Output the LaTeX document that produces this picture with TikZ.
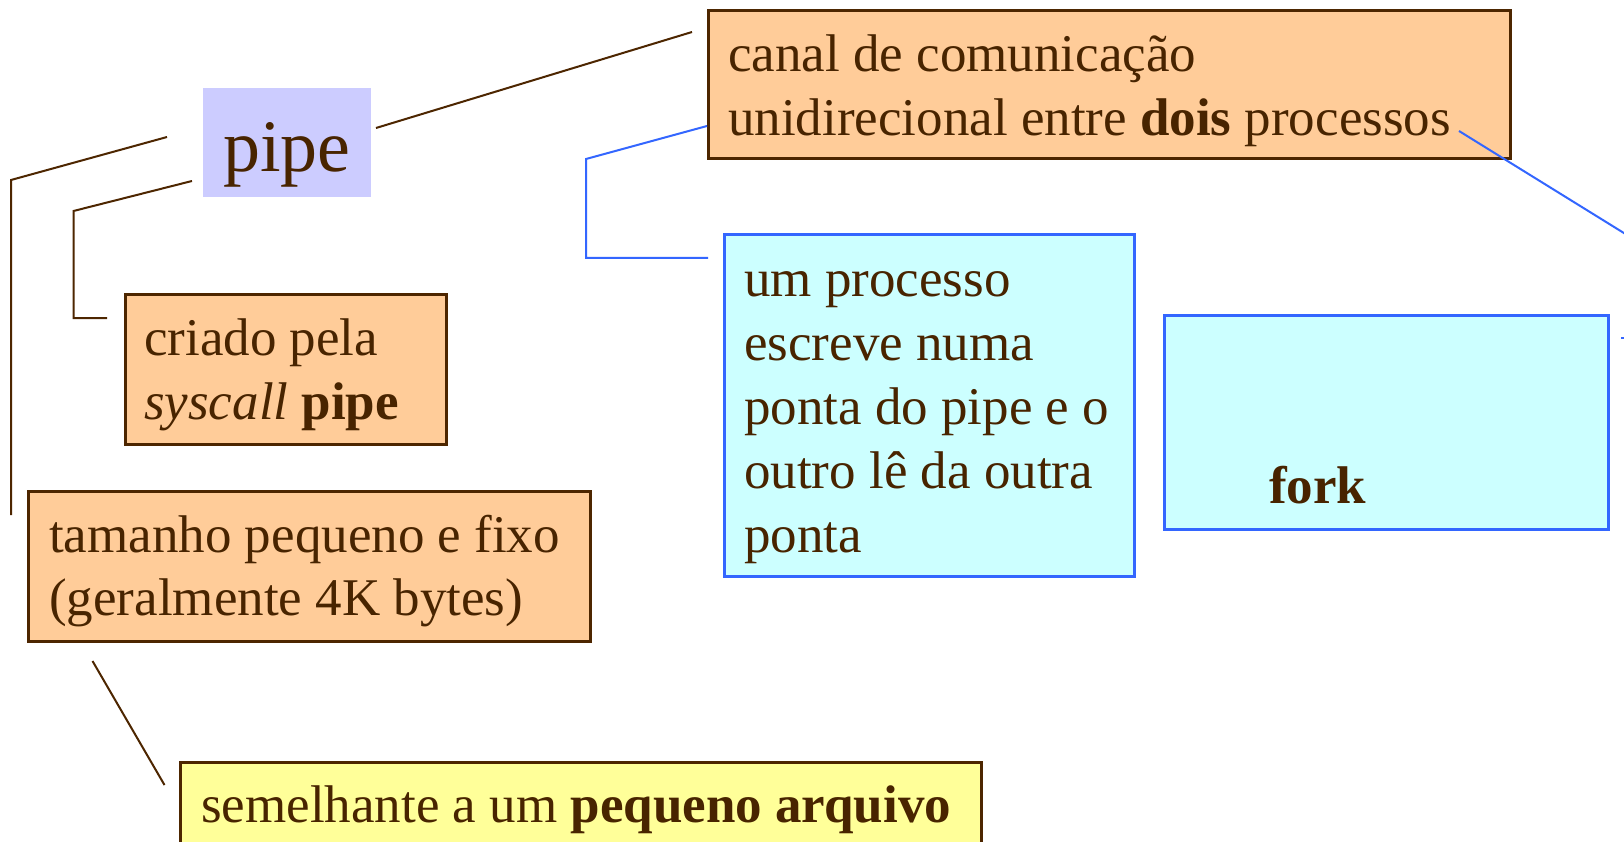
\documentclass[tikz,border=0pt]{standalone}
\usepackage{fontspec}
\setmainfont{Liberation Serif}
\definecolor{tbrown}{RGB}{72,36,0}
\definecolor{lbrown}{RGB}{77,38,0}
\definecolor{ofill}{RGB}{255,204,153}
\definecolor{cfill}{RGB}{204,255,255}
\definecolor{yfill}{RGB}{255,255,153}
\definecolor{pfill}{RGB}{204,204,255}
\definecolor{bline}{RGB}{51,102,255}
\tikzset{
  obox/.style={draw=lbrown, line width=2.6pt, fill=ofill, inner sep=0pt, anchor=north west},
  cbox/.style={draw=bline, line width=2.6pt, fill=cfill, inner sep=0pt, anchor=north west},
  ybox/.style={draw=lbrown, line width=2.6pt, fill=yfill, inner sep=0pt, anchor=north west},
  pbox/.style={fill=pfill, inner sep=0pt, anchor=north west},
  txt/.style={inner sep=0pt, anchor=base west, text=tbrown, font=\fontsize{53}{64}\selectfont},
  bigtxt/.style={inner sep=0pt, anchor=base west, text=tbrown, font=\fontsize{74}{88}\selectfont},
  brline/.style={draw=lbrown, line width=2pt},
  blline/.style={draw=bline, line width=2pt},
}
\begin{document}
\begin{tikzpicture}[x=1pt,y=-1pt]
\clip (0,0) rectangle (1624,842);
\fill[white] (0,0) rectangle (1624,842);

% boxes
\node[pbox, minimum width=168pt, minimum height=109pt] (pipebox) at (203,88) {};
\node[obox, minimum width=802pt, minimum height=148pt] (canal) at (707,9) {};
\node[obox, minimum width=321pt, minimum height=150pt] (criado) at (124,293) {};
\node[obox, minimum width=562pt, minimum height=150pt] (tamanho) at (27,490) {};
\node[ybox, minimum width=801pt, minimum height=110pt] (semelhante) at (179,761) {};
\node[cbox, minimum width=410pt, minimum height=342pt] (processo) at (723,233) {};
\node[cbox, minimum width=444pt, minimum height=214pt] (fork) at (1163,314) {};

% texts
\node[bigtxt] (tpipe) at (223,172) {pipe};
\node[txt] (tcanal1) at (728,72) {canal de comunicação};
\node[txt] (tcanal2) at (728,136) {unidirecional entre \textbf{dois} processos};
\node[txt] (tcriado1) at (144,355) {criado pela};
\node[txt] (tcriado2) at (144,419) {\textit{syscall} \textbf{pipe}};
\node[txt] (ttam1) at (49,552) {tamanho pequeno e fixo};
\node[txt] (ttam2) at (49,615) {(geralmente 4K bytes)};
\node[txt] (tsem) at (201,822) {semelhante a um \textbf{pequeno arquivo}};
\node[txt] (tproc1) at (744,296) {um processo};
\node[txt] (tproc2) at (744,360) {escreve numa};
\node[txt] (tproc3) at (744,424) {ponta do pipe e o};
\node[txt] (tproc4) at (744,488) {outro lê da outra};
\node[txt] (tproc5) at (744,552) {ponta};
\node[txt] (tfork) at (1269,503) {\textbf{fork}};

% connector end points
\coordinate (a1) at (376,128);
\coordinate (a2) at (692,32);
\coordinate (b1) at (167,137);
\coordinate (b2) at (11,180);
\coordinate (b3) at (11,515);
\coordinate (c1) at (192,181);
\coordinate (c2) at (73.5,211);
\coordinate (c3) at (73.5,318);
\coordinate (c4) at (107,318);
\coordinate (d1) at (92.5,661);
\coordinate (d2) at (164.5,785);
\coordinate (e1) at (707,126);
\coordinate (e2) at (586,159);
\coordinate (e3) at (586,258);
\coordinate (e4) at (708,258);
\coordinate (f1) at (1459,131);
\coordinate (f2) at (1640,243);
\coordinate (g1) at (1621,338);
\coordinate (g2) at (1640,338);

% connectors
\draw[brline] (a1) -- (a2);
\draw[brline] (b1) -- (b2) -- (b3);
\draw[brline] (c1) -- (c2) -- (c3) -- (c4);
\draw[brline] (d1) -- (d2);
\draw[blline] (e1) -- (e2) -- (e3) -- (e4);
\draw[blline] (f1) -- (f2);
\draw[blline] (g1) -- (g2);
\end{tikzpicture}
\end{document}
